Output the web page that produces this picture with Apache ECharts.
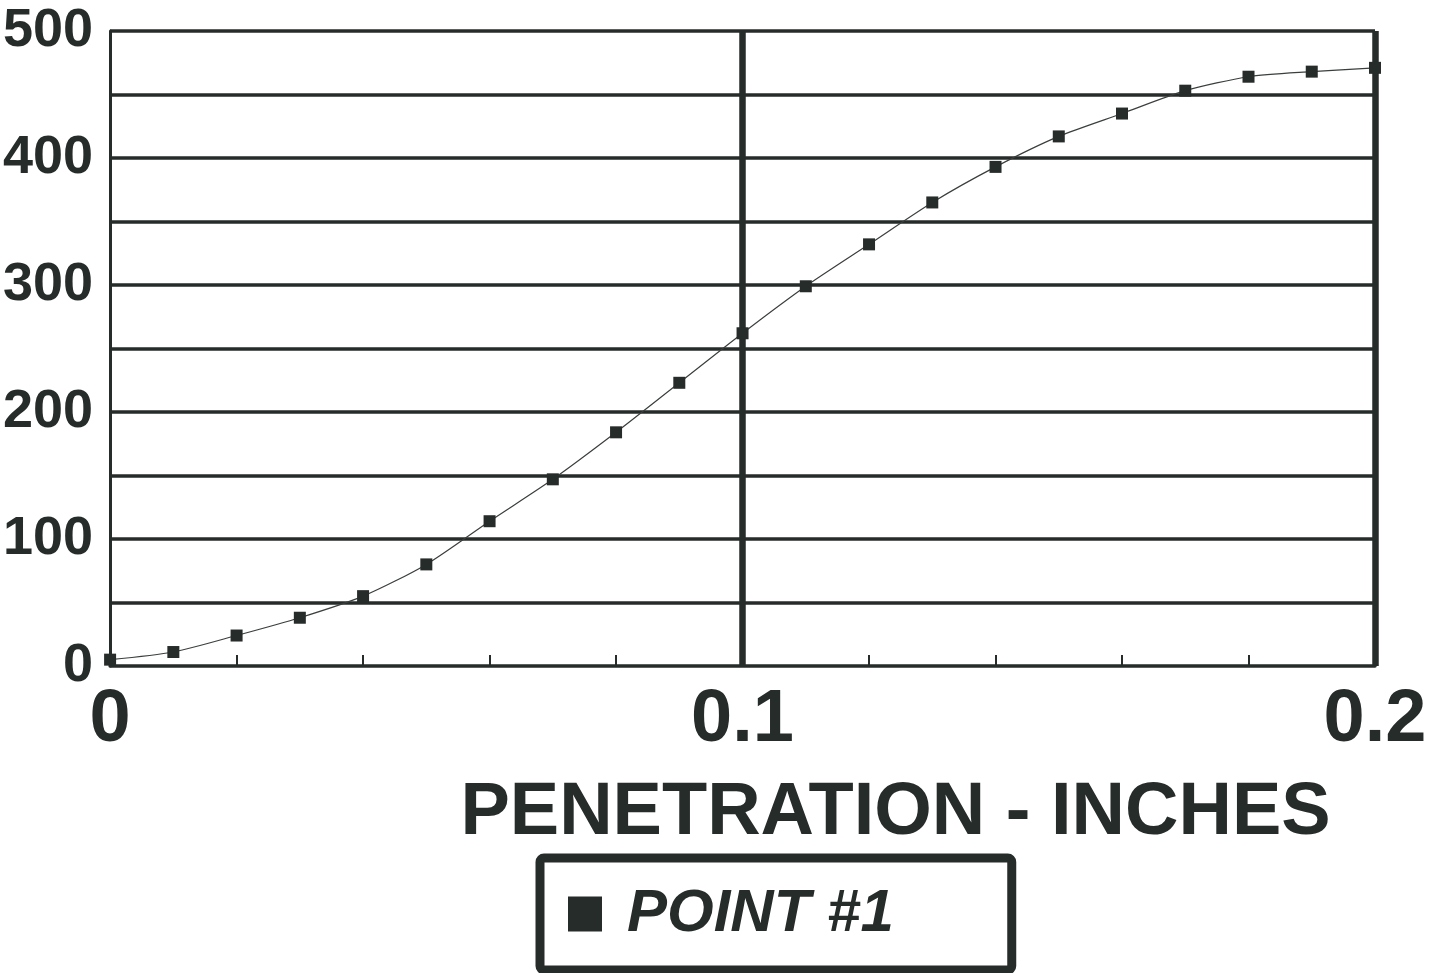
<!DOCTYPE html>
<html>
<head>
<meta charset="utf-8">
<script src="https://cdn.jsdelivr.net/npm/echarts@6/dist/echarts.min.js"></script>
<style>
html,body{margin:0;padding:0;background:#fff;}
#chart{width:1445px;height:973px;}
</style>
</head>
<body>
<div id="chart"></div>
<script>
// Data
const penetration = [0, 0.01, 0.02, 0.03, 0.04, 0.05, 0.06, 0.07, 0.08, 0.09, 0.10,
                     0.11, 0.12, 0.13, 0.14, 0.15, 0.16, 0.17, 0.18, 0.19, 0.20];
const point1 = [5, 11, 24, 38, 55, 80, 114, 147, 184, 223, 262,
                299, 332, 365, 393, 417, 435, 453, 464, 468, 471];
const seriesName = 'POINT #1';
const xAxisTitle = 'PENETRATION - INCHES';

const ink = '#262c2a';
const chart = echarts.init(document.getElementById('chart'));
chart.setOption({
  backgroundColor: '#ffffff',
  animation: false,
  grid: { left: 109, right: 70, top: 31, bottom: 307, containLabel: false },
  xAxis: {
    type: 'value', min: 0, max: 0.2, interval: 0.1,
    axisLine: { show: true, onZero: false, lineStyle: { color: ink, width: 3.5 } },
    axisTick: { show: false, inside: true, length: 12 },
    minorTick: { show: true, splitNumber: 5, length: 11, lineStyle: { color: ink, width: 2 } },
    splitLine: { show: true, showMinLine: false, showMaxLine: true, lineStyle: { color: ink, width: 6.5 } },
    axisLabel: {
      margin: 18, color: ink, fontFamily: 'Liberation Sans', fontWeight: 'bold', fontSize: 74,
      formatter: v => v === 0 ? '0' : v.toFixed(1)
    },
    name: xAxisTitle, nameLocation: 'middle', nameGap: 111,
    nameTextStyle: { color: ink, fontFamily: 'Liberation Sans', fontWeight: 'bold', fontSize: 74, padding: [0, 0, 0, 306] }
  },
  yAxis: {
    type: 'value', min: 0, max: 500, interval: 50,
    axisLine: { show: true, lineStyle: { color: ink, width: 3 } },
    axisTick: { show: false },
    splitLine: { show: true, showMinLine: false, lineStyle: { color: ink, width: 3.5 } },
    axisLabel: {
      margin: 17, color: ink, fontFamily: 'Liberation Sans', fontWeight: 'bold', fontSize: 54,
      formatter: v => (v % 100 === 0 ? String(v) : '')
    }
  },
  legend: {
    left: 540, top: 858,
    orient: 'horizontal',
    padding: [26, 118, 26, 28],
    borderColor: ink, borderWidth: 9, borderRadius: 4,
    icon: 'rect', itemWidth: 34, itemHeight: 35,
    textStyle: { color: ink, fontFamily: 'Liberation Sans', fontWeight: 'bold', fontStyle: 'italic', fontSize: 60, padding: [0, 0, 0, 20] },
    data: [seriesName]
  },
  series: [{
    name: seriesName,
    type: 'line',
    data: penetration.map((x, i) => [x, point1[i]]),
    smooth: 0.25,
    symbol: 'rect', symbolSize: 12,
    itemStyle: { color: ink },
    lineStyle: { color: '#3a3f3d', width: 1.2 },
    z: 5
  }]
});
</script>
</body>
</html>
